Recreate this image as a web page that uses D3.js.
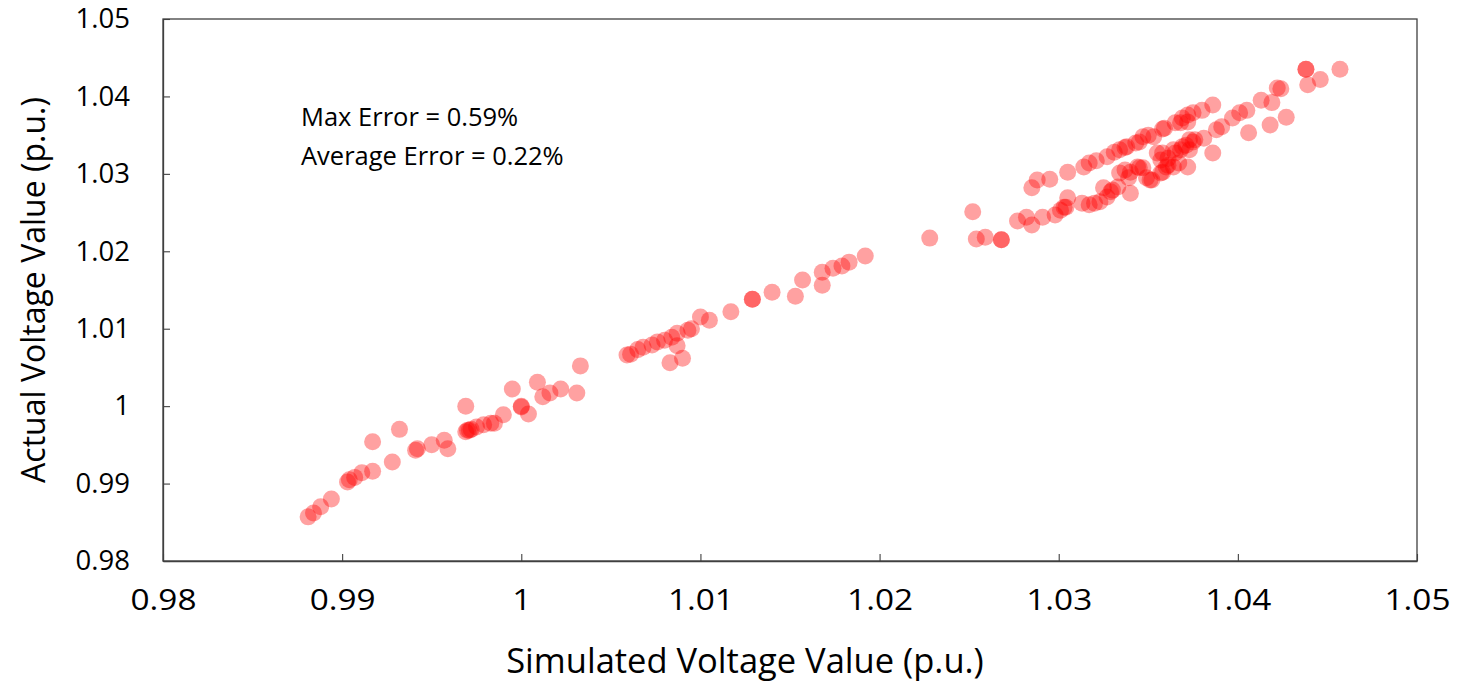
<!DOCTYPE html>
<html>
<head>
<meta charset="utf-8">
<script src="https://cdn.jsdelivr.net/npm/d3@7"></script>
<style>
  body { margin: 0; background: #fff; }
  svg text { font-family: "Open Sans", "Noto Sans", sans-serif; fill: #000; }
</style>
</head>
<body>
<div id="chart"></div>
<script>
// simulated (x) vs actual (y) voltage, p.u.
const simulated = [
  0.9881, 0.9884, 0.9888, 0.9894, 0.9903, 0.9904, 0.9907, 0.9911, 0.9917, 0.9917,
  0.9928, 0.9932, 0.9941, 0.9942, 0.9950, 0.9957, 0.9959, 0.9969, 0.9969, 0.9970,
  0.9971, 0.9972, 0.9975, 0.9979, 0.9983, 0.9985, 0.9990, 0.9995, 1.0000, 1.0000,
  1.0004, 1.0009, 1.0012, 1.0016, 1.0022, 1.0031, 1.0033, 1.0059, 1.0061, 1.0065,
  1.0068, 1.0073, 1.0076, 1.0080, 1.0084, 1.0087, 1.0093, 1.0095, 1.0087, 1.0083,
  1.0090, 1.0100, 1.0105, 1.0117, 1.0129, 1.0129, 1.0140, 1.0153, 1.0157, 1.0168,
  1.0168, 1.0174, 1.0179, 1.0183, 1.0192, 1.0228, 1.0252, 1.0254, 1.0259, 1.0268,
  1.0268, 1.0277, 1.0282, 1.0285, 1.0291, 1.0298, 1.0301, 1.0304, 1.0303, 1.0305,
  1.0313, 1.0317, 1.0320, 1.0323, 1.0327, 1.0330, 1.0333, 1.0334, 1.0337, 1.0339,
  1.0340, 1.0344, 1.0345, 1.0349, 1.0352, 1.0355, 1.0358, 1.0361, 1.0364, 1.0367,
  1.0372, 1.0373, 1.0376, 1.0381, 1.0375, 1.0369, 1.0364, 1.0358, 1.0386, 1.0360,
  1.0357, 1.0351, 1.0285, 1.0288, 1.0295, 1.0305, 1.0314, 1.0317, 1.0321, 1.0327,
  1.0331, 1.0334, 1.0338, 1.0343, 1.0347, 1.0350, 1.0358, 1.0368, 1.0372, 1.0353,
  1.0359, 1.0365, 1.0369, 1.0372, 1.0375, 1.0380, 1.0386, 1.0388, 1.0391, 1.0397,
  1.0401, 1.0405, 1.0406, 1.0413, 1.0419, 1.0418, 1.0422, 1.0424, 1.0427, 1.0438,
  1.0438, 1.0439, 1.0446, 1.0457, 1.0325, 1.0329, 1.0361, 1.0365, 1.0368, 1.0371,
  1.0357, 1.0373, 1.0340, 1.0347, 1.0337, 1.0345
];
const actual = [
  0.9857, 0.9862, 0.9870, 0.9880, 0.9902, 0.9905, 0.9908, 0.9914, 0.9916, 0.9954,
  0.9928, 0.9970, 0.9943, 0.9945, 0.9950, 0.9956, 0.9945, 1.0000, 0.9967, 0.9969,
  0.9969, 0.9970, 0.9973, 0.9976, 0.9978, 0.9978, 0.9989, 1.0022, 0.9999, 1.0000,
  0.9990, 1.0031, 1.0012, 1.0017, 1.0022, 1.0017, 1.0052, 1.0066, 1.0067, 1.0073,
  1.0076, 1.0079, 1.0083, 1.0085, 1.0089, 1.0094, 1.0098, 1.0100, 1.0078, 1.0056,
  1.0062, 1.0115, 1.0111, 1.0122, 1.0138, 1.0138, 1.0147, 1.0142, 1.0163, 1.0156,
  1.0173, 1.0178, 1.0181, 1.0186, 1.0194, 1.0217, 1.0251, 1.0216, 1.0218, 1.0215,
  1.0215, 1.0239, 1.0244, 1.0234, 1.0244, 1.0247, 1.0253, 1.0257, 1.0257, 1.0269,
  1.0262, 1.0260, 1.0262, 1.0264, 1.0270, 1.0279, 1.0283, 1.0301, 1.0305, 1.0295,
  1.0275, 1.0309, 1.0308, 1.0295, 1.0292, 1.0327, 1.0302, 1.0311, 1.0309, 1.0314,
  1.0309, 1.0331, 1.0344, 1.0346, 1.0341, 1.0335, 1.0331, 1.0327, 1.0327, 1.0309,
  1.0301, 1.0292, 1.0282, 1.0292, 1.0293, 1.0302, 1.0309, 1.0314, 1.0317, 1.0322,
  1.0328, 1.0331, 1.0335, 1.0340, 1.0348, 1.0350, 1.0358, 1.0366, 1.0367, 1.0348,
  1.0359, 1.0366, 1.0372, 1.0376, 1.0379, 1.0382, 1.0389, 1.0357, 1.0361, 1.0372,
  1.0379, 1.0382, 1.0353, 1.0395, 1.0392, 1.0363, 1.0411, 1.0410, 1.0373, 1.0435,
  1.0435, 1.0415, 1.0422, 1.0435, 1.0282, 1.0277, 1.0320, 1.0327, 1.0331, 1.0337,
  1.0318, 1.0344, 1.0302, 1.0308, 1.0334, 1.0341
];
const tickValues = [0.98, 0.99, 1, 1.01, 1.02, 1.03, 1.04, 1.05];
const tickLabels = ["0.98", "0.99", "1", "1.01", "1.02", "1.03", "1.04", "1.05"];
const notes = ["Max Error = 0.59%", "Average Error = 0.22%"];

const width = 1460, height = 687;
const margin = {top: 19, right: 43, bottom: 126, left: 163};

const svg = d3.select("#chart").append("svg")
  .attr("width", width)
  .attr("height", height);

const x = d3.scaleLinear().domain([0.98, 1.05]).range([margin.left, width - margin.right]);
const y = d3.scaleLinear().domain([0.98, 1.05]).range([height - margin.bottom, margin.top]);

// frame
svg.append("rect")
  .attr("x", x(0.98)).attr("y", y(1.05))
  .attr("width", x(1.05) - x(0.98)).attr("height", y(0.98) - y(1.05))
  .attr("fill", "none").attr("stroke", "#404040").attr("stroke-width", 1.3);

// axes, ticks pointing inward
const xAxis = svg.append("g")
  .attr("transform", `translate(0,${y(0.98)})`)
  .call(d3.axisBottom(x).tickValues(tickValues).tickFormat((d, i) => tickLabels[i])
    .tickSizeInner(-7).tickSizeOuter(0).tickPadding(28));
const yAxis = svg.append("g")
  .attr("transform", `translate(${x(0.98)},0)`)
  .call(d3.axisLeft(y).tickValues(tickValues).tickFormat((d, i) => tickLabels[i])
    .tickSizeInner(-7).tickSizeOuter(0).tickPadding(33));

[xAxis, yAxis].forEach(g => {
  g.select(".domain").attr("stroke", "#404040").attr("stroke-width", 1.3);
  g.selectAll(".tick line").attr("stroke", "#404040").attr("stroke-width", 1.1);
  g.selectAll(".tick text").attr("fill", "#000");
});
xAxis.selectAll(".tick text").style("font-size", "29px").attr("transform", "scale(1.15,1)");
yAxis.selectAll(".tick text").style("font-size", "27.5px");

// points
svg.append("g")
  .selectAll("circle")
  .data(simulated.map((v, i) => [v, actual[i]]))
  .join("circle")
  .attr("cx", d => x(d[0]))
  .attr("cy", d => y(d[1]))
  .attr("r", 8.5)
  .attr("fill", "#ff0000")
  .attr("fill-opacity", 0.37);

// annotation
svg.append("g")
  .selectAll("text")
  .data(notes)
  .join("text")
  .attr("x", 301)
  .attr("y", (d, i) => 126 + i * 39)
  .style("font-size", "25.5px")
  .text(d => d);

// axis titles
svg.append("text")
  .attr("x", 745)
  .attr("y", 673)
  .attr("text-anchor", "middle")
  .style("font-size", "34.5px")
  .text("Simulated Voltage Value (p.u.)");

svg.append("text")
  .attr("transform", `translate(45,${(y(0.98) + y(1.05)) / 2}) rotate(-90)`)
  .attr("text-anchor", "middle")
  .style("font-size", "32px")
  .text("Actual Voltage Value (p.u.)");
</script>
</body>
</html>
